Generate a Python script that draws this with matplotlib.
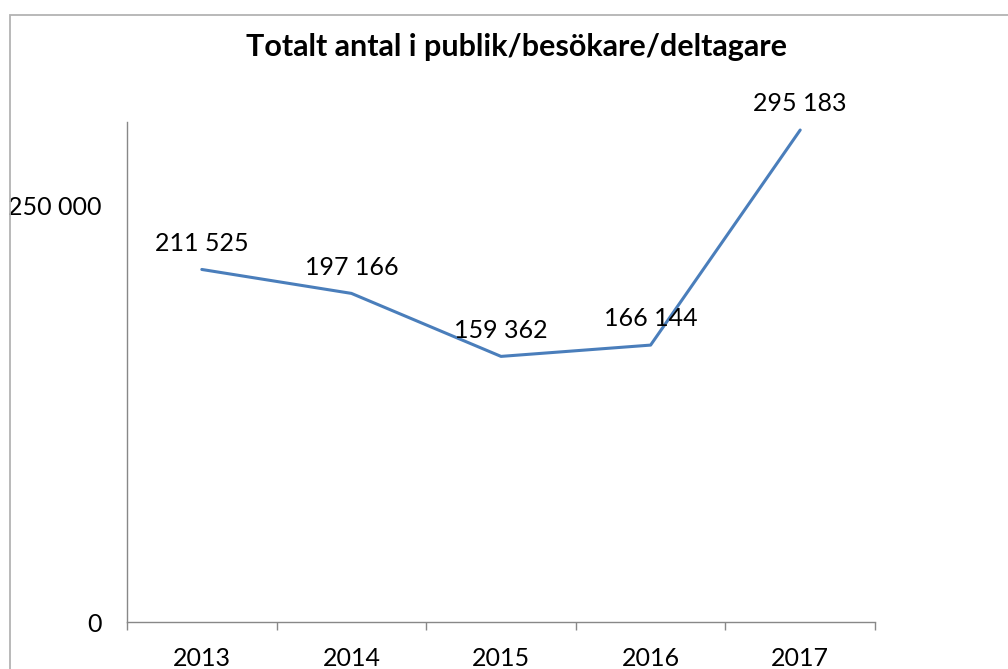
import matplotlib
matplotlib.use("Agg")
import matplotlib.pyplot as plt
from matplotlib.patches import Rectangle

years = ["2013", "2014", "2015", "2016", "2017"]
values = [211525, 197166, 159362, 166144, 295183]
labels = ["211 525", "197 166", "159 362", "166 144", "295 183"]
yticks = [0, 250000]
ytick_labels = ["0", "250 000"]
title = "Totalt antal i publik/besökare/deltagare"

plt.rcParams['font.family'] = ['Lato', 'DejaVu Sans']

fig = plt.figure(figsize=(10.08, 6.69), dpi=100)
fig.patches.append(Rectangle((10/1008, -0.1), 1.2, 0.1 + (1 - 15/669), transform=fig.transFigure,
                             fill=False, edgecolor='#b3b3b3', linewidth=1.3))
ax = fig.add_axes([127/1008, 47/669, (875-127)/1008, 500/669])
x = list(range(len(years)))
ax.plot(x, values, color='#4a7ebb', linewidth=2.2, solid_capstyle='round')
for xi, v, lab in zip(x, values, labels):
    ax.annotate(lab, (xi, v), xytext=(0, 19), textcoords='offset points',
                ha='center', va='center', fontsize=18, color='black')
ax.set_xlim(-0.5, 4.5)
ax.set_ylim(0, 300000)
ax.set_yticks(yticks)
ax.set_yticklabels(ytick_labels, fontsize=18)
ax.set_xticks(x)
ax.set_xticklabels(years, fontsize=18)
ax.set_xticks([i - 0.5 for i in range(6)], minor=True)
ax.tick_params(axis='x', which='major', length=0, pad=18)
ax.tick_params(axis='x', which='minor', length=6, color='#888888', width=1)
ax.tick_params(axis='y', length=0, pad=18)
for s in ['top', 'right']:
    ax.spines[s].set_visible(False)
for s in ['left', 'bottom']:
    ax.spines[s].set_color('#888888')
    ax.spines[s].set_linewidth(1)
fig.text(516/1008, 1 - 47/669, title, ha='center', va='center', fontsize=22, fontweight='bold')
fig.savefig('out.png', dpi=100)
